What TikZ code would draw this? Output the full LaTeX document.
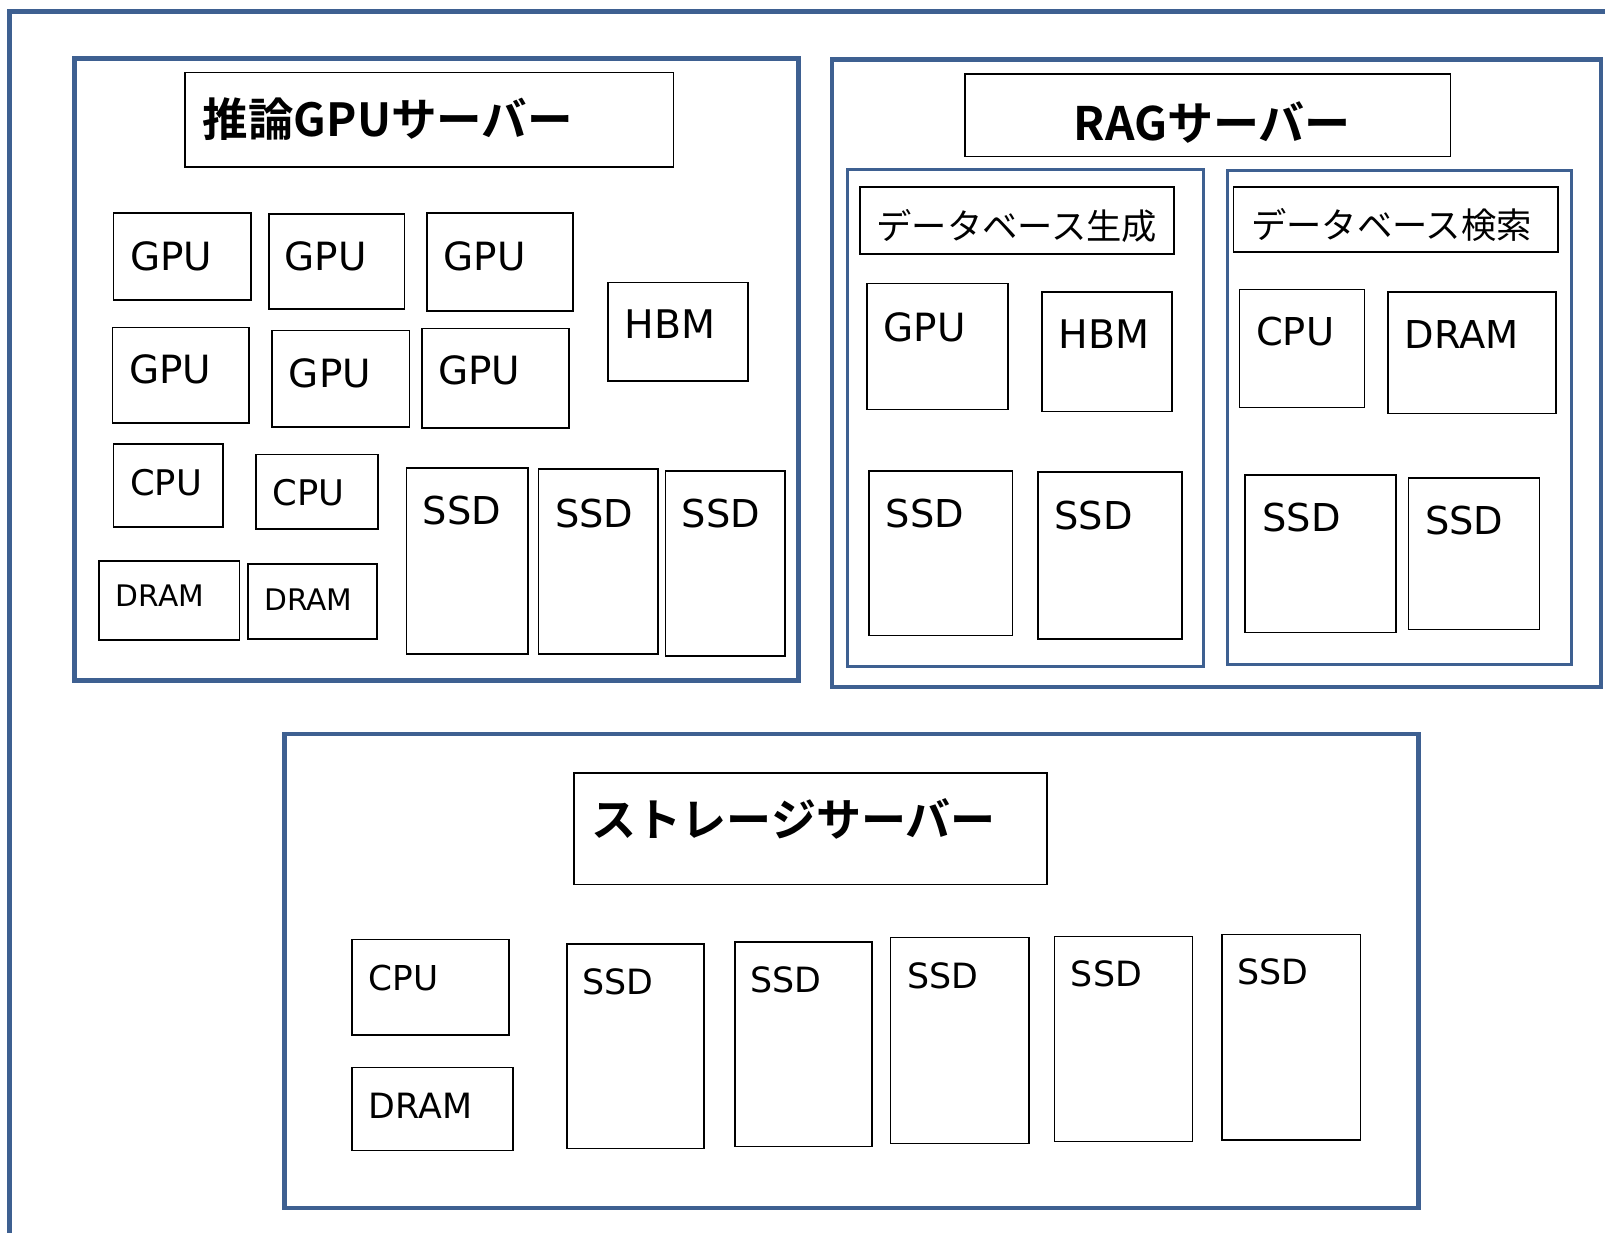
\documentclass[tikz,border=0pt]{standalone}
\usepackage{fontspec}
\setmainfont{DejaVu Sans}
\newfontfamily\cjk{Noto Sans CJK JP}
\newfontfamily\cjkb{Noto Sans CJK JP Bold}
\usetikzlibrary{fit}
\definecolor{frameblue}{RGB}{62,96,145}
\newcommand\fs[1]{\fontsize{#1}{#1}\selectfont}
\def\serverbox{\node[draw=frameblue,line width=4.5pt,inner sep=0pt]}
\def\groupbox{\node[draw=frameblue,line width=3pt,inner sep=0pt]}
\def\partbox{\node[draw=black,line width=1.6pt,inner sep=0pt]}
\def\partlabel{\node[anchor=base west,inner sep=0pt]}
\def\titlelabel{\node[anchor=west,inner sep=0pt]}

\begin{document}
\begin{tikzpicture}[x=1pt,y=-1pt]
\useasboundingbox (0,0) rectangle (1568,1204);
\clip (0,0) rectangle (1568,1204);
\serverbox[fit={(9,11)(1600,1240)}] (frame) {};

\serverbox[fit={(73,57)(780,665)}] (infer) {};
\partbox[fit={(181,71)(658,163)}] (infertitle) {};
\titlelabel[font=\cjkb\fs{44.5}] (infertext) at (198,116) {推論GPUサーバー};
\partbox[fit={(111,208)(245,293)}] (gpua) {};
\partlabel[font=\fs{38}] (gpuatext) at (127,264) {GPU};
\partbox[fit={(263,209)(395,302)}] (gpub) {};
\partlabel[font=\fs{38}] (gpubtext) at (278,264) {GPU};
\partbox[fit={(417,208)(560,304)}] (gpuc) {};
\partlabel[font=\fs{38}] (gpuctext) at (433,264) {GPU};
\partbox[fit={(110,320)(243,413)}] (gpud) {};
\partlabel[font=\fs{38}] (gpudtext) at (126,375) {GPU};
\partbox[fit={(266,323)(400,417)}] (gpue) {};
\partlabel[font=\fs{38}] (gpuetext) at (282,379) {GPU};
\partbox[fit={(412,321)(556,418)}] (gpuf) {};
\partlabel[font=\fs{38}] (gpuftext) at (428,376) {GPU};
\partbox[fit={(594,276)(731,372)}] (hbm) {};
\partlabel[font=\fs{38.5}] (hbmtext) at (610,331) {HBM};
\partbox[fit={(111,434)(218,515)}] (cpua) {};
\partlabel[font=\fs{34.5}] (cpuatext) at (127,484) {CPU};
\partbox[fit={(250,444)(369,517)}] (cpub) {};
\partlabel[font=\fs{34.5}] (cpubtext) at (266,494) {CPU};
\partbox[fit={(97,548)(234,625)}] (drama) {};
\partlabel[font=\fs{29}] (dramatext) at (113,593) {DRAM};
\partbox[fit={(242,551)(368,624)}] (dramb) {};
\partlabel[font=\fs{29}] (drambtext) at (258,596) {DRAM};
\partbox[fit={(397,457)(516,639)}] (ssda) {};
\partlabel[font=\fs{37.5}] (ssdatext) at (413,512) {SSD};
\partbox[fit={(526,458)(643,639)}] (ssdb) {};
\partlabel[font=\fs{37.5}] (ssdbtext) at (542,515) {SSD};
\partbox[fit={(650,460)(767,641)}] (ssdc) {};
\partlabel[font=\fs{37.5}] (ssdctext) at (666,515) {SSD};

\serverbox[fit={(813,58)(1564,671)}] (rag) {};
\partbox[fit={(943,72)(1417,153)}] (ragtitle) {};
\titlelabel[font=\cjkb\fs{45}] (ragtext) at (1049,120) {RAGサーバー};
\groupbox[fit={(828,166)(1176,651)}] (gen) {};
\groupbox[fit={(1199,167)(1535,649)}] (search) {};
\partbox[fit={(840,183)(1147,248)}] (gentitle) {};
\titlelabel[font=\cjk\fs{34.5}] (gentext) at (856,221) {データベース生成};
\partbox[fit={(1205,183)(1522,246)}] (searchtitle) {};
\titlelabel[font=\cjk\fs{34.5}] (searchtext) at (1222,220) {データベース検索};
\partbox[fit={(847,277)(985,400)}] (gengpu) {};
\partlabel[font=\fs{38}] (gengputext) at (863,334) {GPU};
\partbox[fit={(1018,285)(1145,402)}] (genhbm) {};
\partlabel[font=\fs{38.5}] (genhbmtext) at (1034,340) {HBM};
\partbox[fit={(849,460)(989,621)}] (genssda) {};
\partlabel[font=\fs{37.5}] (genssdatext) at (865,515) {SSD};
\partbox[fit={(1014,461)(1155,624)}] (genssdb) {};
\partlabel[font=\fs{37.5}] (genssdbtext) at (1030,517) {SSD};
\partbox[fit={(1211,283)(1333,398)}] (searchcpu) {};
\partlabel[font=\fs{37.5}] (searchcputext) at (1227,338) {CPU};
\partbox[fit={(1356,285)(1520,404)}] (searchdram) {};
\partlabel[font=\fs{37.5}] (searchdramtext) at (1372,340) {DRAM};
\partbox[fit={(1216,464)(1364,618)}] (searchssda) {};
\partlabel[font=\fs{37.5}] (searchssdatext) at (1233,519) {SSD};
\partbox[fit={(1376,467)(1504,615)}] (searchssdb) {};
\partlabel[font=\fs{37.5}] (searchssdbtext) at (1392,522) {SSD};

\serverbox[fit={(278,717)(1386,1180)}] (storage) {};
\partbox[fit={(561,755)(1023,864)}] (storagetitle) {};
\titlelabel[font=\cjkb\fs{44}] (storagetext) at (578,800) {ストレージサーバー};
\partbox[fit={(344,918)(497,1011)}] (stcpu) {};
\partlabel[font=\fs{33.5}] (stcputext) at (360,968) {CPU};
\partbox[fit={(344,1043)(501,1124)}] (stdram) {};
\partlabel[font=\fs{34}] (stdramtext) at (360,1093) {DRAM};
\partbox[fit={(554,922)(688,1122)}] (stssda) {};
\partlabel[font=\fs{34}] (stssdatext) at (569,972) {SSD};
\partbox[fit={(718,920)(852,1120)}] (stssdb) {};
\partlabel[font=\fs{34}] (stssdbtext) at (733,970) {SSD};
\partbox[fit={(870,916)(1005,1117)}] (stssdc) {};
\partlabel[font=\fs{34}] (stssdctext) at (886,966) {SSD};
\partbox[fit={(1030,915)(1165,1115)}] (stssdd) {};
\partlabel[font=\fs{34}] (stssddtext) at (1046,964) {SSD};
\partbox[fit={(1194,913)(1329,1114)}] (stssde) {};
\partlabel[font=\fs{34}] (stssdetext) at (1209,962) {SSD};
\end{tikzpicture}
\end{document}
